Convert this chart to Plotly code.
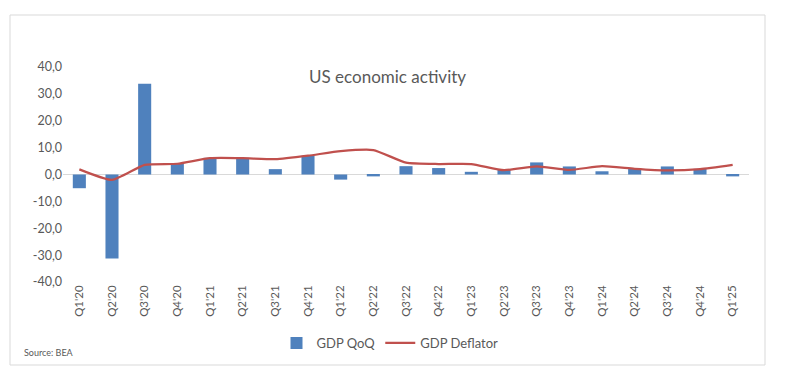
import plotly.graph_objects as go

quarters = ["Q1'20", "Q2'20", "Q3'20", "Q4'20", "Q1'21", "Q2'21", "Q3'21", "Q4'21",
            "Q1'22", "Q2'22", "Q3'22", "Q4'22", "Q1'23", "Q2'23", "Q3'23", "Q4'23",
            "Q1'24", "Q2'24", "Q3'24", "Q4'24", "Q1'25"]
gdp_qoq = [-5.1, -31.3, 33.8, 4.0, 6.2, 6.2, 2.0, 7.0, -1.9, -0.7, 3.1, 2.4,
           1.0, 1.9, 4.5, 3.0, 1.2, 2.4, 3.0, 2.1, -0.7]
gdp_deflator = [1.9, -2.0, 3.6, 4.0, 6.1, 6.1, 5.7, 7.0, 8.7, 9.1, 4.4, 3.9,
                3.9, 1.6, 3.0, 1.7, 3.1, 2.1, 1.5, 2.0, 3.6]
y_ticks = [40, 30, 20, 10, 0, -10, -20, -30, -40]
y_ticktext = ["40,0", "30,0", "20,0", "10,0", "0,0", "-10,0", "-20,0", "-30,0", "-40,0"]

FONT = "Lato, 'Open Sans', sans-serif"
GRAY = "#595959"

fig = go.Figure()
fig.add_trace(go.Bar(x=quarters, y=gdp_qoq, name="GDP QoQ",
                     marker=dict(color="#4f81bd", line=dict(width=0))))
fig.add_trace(go.Scatter(x=quarters, y=gdp_deflator, name="GDP Deflator", mode="lines",
                         line=dict(color="#c0504d", width=2.25, shape="spline", smoothing=0.5)))

# page body has an 8px margin; work in screen coordinates and shift
OX, OY = 8, 8
W, H = 788 - OX, 384 - OY
L, R, T, B = 63 - OX, 39, 67 - OY, 102
pw, ph = W - L - R, H - T - B

def px(x):
    return (x - OX - L) / pw

def py(y):
    return (H - B - (y - OY)) / ph

fig.update_layout(
    width=W, height=H,
    margin=dict(l=L, r=R, t=T, b=B, pad=0),
    paper_bgcolor="white", plot_bgcolor="white",
    font=dict(family=FONT, color=GRAY, size=12),
    bargap=0.6,
    showlegend=True,
    legend=dict(orientation="h", x=px(390), y=py(343), xanchor="center", yanchor="middle",
                font=dict(size=13, color=GRAY), itemwidth=30, tracegroupgap=0),
    xaxis=dict(type="category", showline=False, showgrid=False, zeroline=False,
               tickangle=-90, ticks="", tickfont=dict(size=11.5, color=GRAY),
               ticklen=0, automargin=False),
    yaxis=dict(range=[-40, 40], tickvals=y_ticks, ticktext=y_ticktext,
               showgrid=False, showline=False, zeroline=True, zerolinecolor="#d9d9d9",
               zerolinewidth=1, ticks="", tickfont=dict(size=12.5, color=GRAY),
               automargin=False),
    shapes=[dict(type="rect", xref="paper", yref="paper",
                 x0=px(10), x1=px(765), y0=py(365), y1=py(15),
                 line=dict(color="#d9d9d9", width=1), fillcolor="rgba(0,0,0,0)", layer="below")],
    annotations=[
        dict(text="US economic activity", xref="paper", yref="paper",
             x=px(387), y=py(76), xanchor="center", yanchor="middle", showarrow=False,
             font=dict(size=17, color=GRAY, family=FONT)),
        dict(text="Source: BEA", xref="paper", yref="paper",
             x=px(22), y=py(352), xanchor="left", yanchor="middle", showarrow=False,
             font=dict(size=9, color=GRAY, family=FONT)),
    ],
)

fig.write_html("out.html")
